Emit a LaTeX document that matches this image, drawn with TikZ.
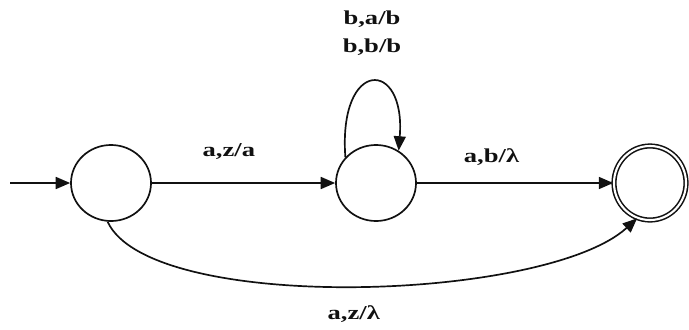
\documentclass[tikz,border=0pt]{standalone}
\usepackage{fontspec}
\setmainfont{Liberation Serif}
\usepackage{xcolor}
\usetikzlibrary{arrows.meta,shapes.geometric}
\definecolor{ink}{HTML}{111111}
\tikzset{
  state/.style={
    draw=ink, ellipse, line width=1.2pt, inner sep=0pt,
    minimum width=2.0cm, minimum height=1.9cm},
  accept/.style={double=white, double distance=1.5pt, line width=1.1pt,
    minimum width=1.8cm, minimum height=1.85cm},
  move/.style={-{Triangle[length=3.6mm,width=3mm]}, line width=1.2pt, color=ink},
  tag/.style={font=\bfseries\fontsize{14}{20}\selectfont, xscale=1.35, color=ink, inner sep=0pt},
}
\begin{document}
\begin{tikzpicture}[x=0.025cm, y=-0.025cm]
  \useasboundingbox (0,0) rectangle (689,329);
  \node[state] (q0) at (111,183) {};
  \node[state] (q1) at (376,183) {};
  \node[state, accept] (q2) at (650,183) {};
  \coordinate (start) at (10,183);

  \draw[move] (start) -- (q0);
  \draw[move] (q0) -- node[tag, pos=0.42, yshift=0.78cm] (lab01) {a,z/a} (q1);
  \draw[move] (q1) -- node[tag, pos=0.38, yshift=0.65cm] (lab12) {a,b/λ} (q2);
  \draw[move] (q1.140) .. controls (338,58) and (406,58) .. (q1.55);
  \node[tag, align=center] (lab11) at (372,33) {b,a/b\\b,b/b};
  \draw[move] (q0.265) .. controls (150,314) and (545,302) .. (q2.250)
    node[tag, pos=0.5, yshift=-0.7cm] (lab02) {a,z/λ};
\end{tikzpicture}
\end{document}
